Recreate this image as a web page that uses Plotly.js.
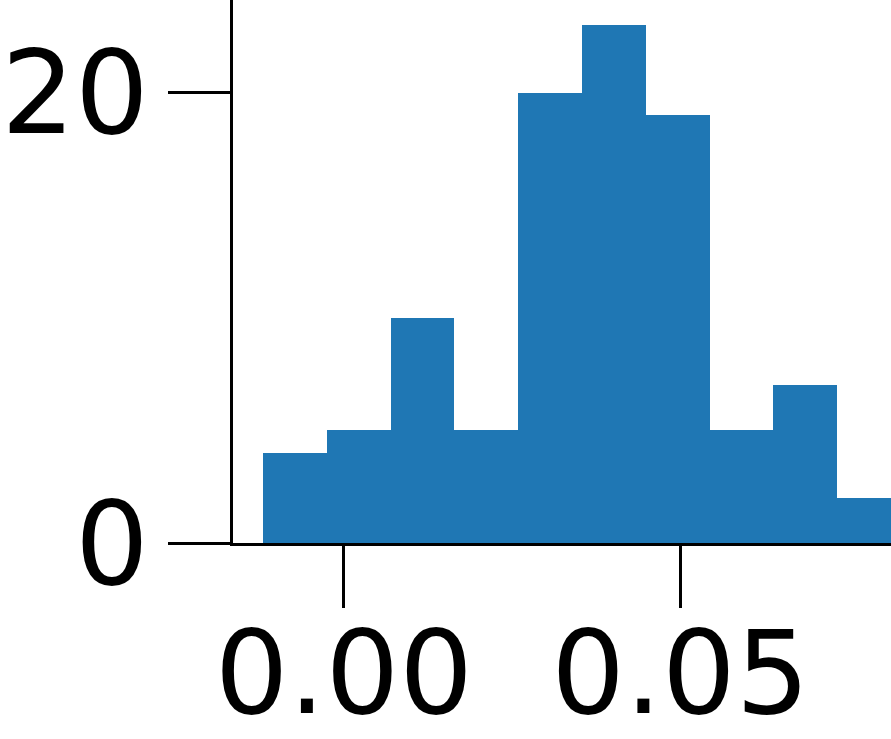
<!DOCTYPE html>
<html>
<head>
<meta charset="utf-8">
<script src="https://cdn.plot.ly/plotly-3.0.1.min.js"></script>
<style>
  html, body { margin: 0; padding: 0; background: #fff; }
  #chart { width: 891px; height: 739px; }
</style>
</head>
<body>
<div id="chart"></div>
<script>
// histogram counts, bins of equal width
var counts = [4, 5, 10, 5, 20, 23, 19, 5, 7, 2];
var binStart = -0.01202;
var binWidth = 0.00948;

var centers = counts.map(function (c, i) { return binStart + binWidth * (i + 0.5); });

var xTicks = [0.00, 0.05];
var xTickText = ["0.00", "0.05"];
var yTicks = [0, 20];

var data = [{
  type: "bar",
  x: centers,
  y: counts,
  width: binWidth,
  marker: { color: "#1f77b4", line: { width: 0 } },
  hoverinfo: "none"
}];

var tickFont = { family: "DejaVu Sans", size: 116, color: "#000" };

var layout = {
  width: 891, height: 739,
  margin: { t: 0, r: 0, b: 196, l: 233 },
  paper_bgcolor: "#fff",
  plot_bgcolor: "#fff",
  showlegend: false,
  bargap: 0,
  xaxis: {
    range: [-0.01647, 0.0813],
    tickvals: xTicks,
    ticktext: xTickText,
    ticks: "outside", ticklen: 62, tickwidth: 3, tickcolor: "#000",
    showline: true, linewidth: 3, linecolor: "#000",
    showgrid: false, zeroline: false,
    ticklabelstandoff: -34,
    tickfont: tickFont
  },
  yaxis: {
    range: [0, 24.12],
    tickvals: yTicks,
    ticks: "outside", ticklen: 62, tickwidth: 3, tickcolor: "#000",
    showline: true, linewidth: 3, linecolor: "#000",
    showgrid: false, zeroline: false,
    ticklabelstandoff: -4,
    tickfont: tickFont
  }
};

Plotly.newPlot("chart", data, layout, { displayModeBar: false, responsive: false, staticPlot: true });
</script>
</body>
</html>
